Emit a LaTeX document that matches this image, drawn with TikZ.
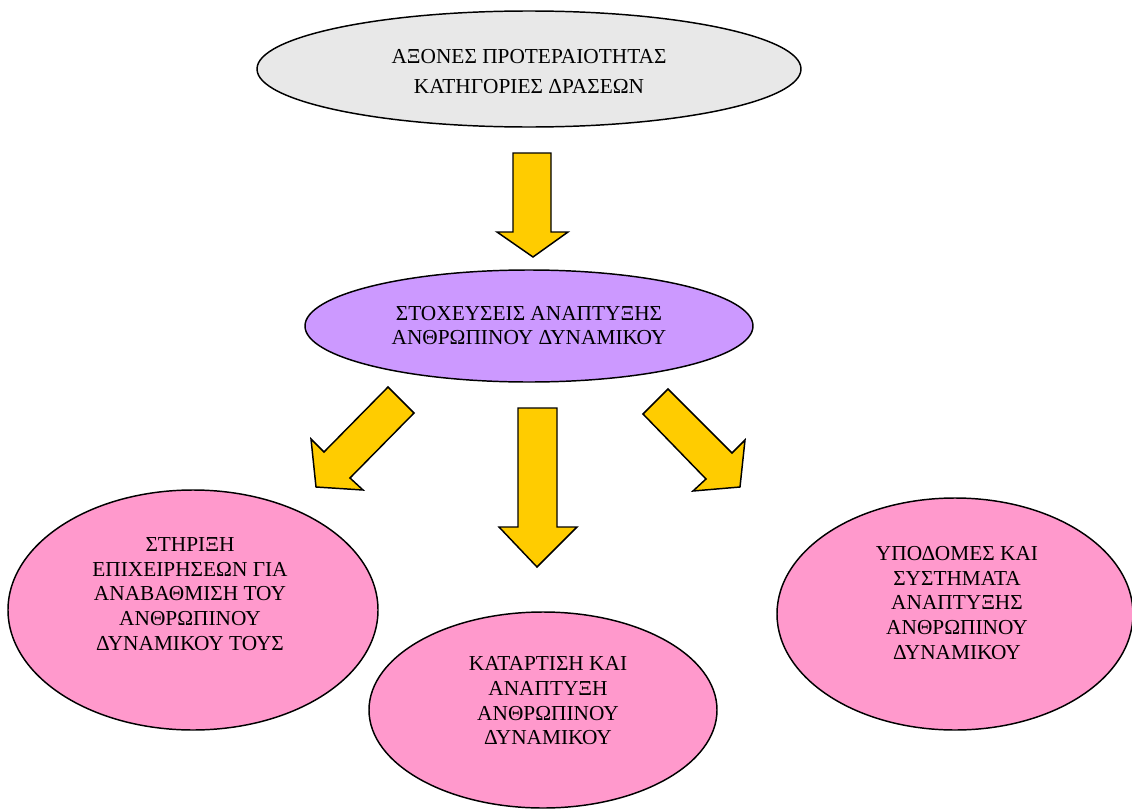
\documentclass[tikz,border=0pt]{standalone}
\usepackage{fontspec}
\setmainfont{Liberation Serif}
\usetikzlibrary{shapes.geometric}
\definecolor{ellgray}{HTML}{E8E8E8}
\definecolor{ellpurple}{HTML}{CC99FF}
\definecolor{ellpink}{HTML}{FF99CC}
\definecolor{arrowyellow}{HTML}{FFCC00}
\tikzset{
  ell/.style={ellipse, draw=black, line width=1.1pt, inner sep=0pt},
  txt/.style={align=center, font=\fontsize{16}{18.5}\selectfont, inner sep=0pt},
  blockarrow/.style={fill=arrowyellow, draw=black, line width=1.1pt, line join=miter}
}
\begin{document}
\begin{tikzpicture}[x=0.75pt,y=-0.75pt]
\useasboundingbox (0,0) rectangle (1132,810);
% ellipses
\node[ell, fill=ellgray, minimum width=544*0.75pt, minimum height=116*0.75pt] (top) at (529,69) {};
\node[ell, fill=ellpurple, minimum width=448*0.75pt, minimum height=112*0.75pt] (mid) at (529,326) {};
\node[ell, fill=ellpink, minimum width=370*0.75pt, minimum height=240*0.75pt] (left) at (193,610) {};
\node[ell, fill=ellpink, minimum width=348*0.75pt, minimum height=196*0.75pt] (centre) at (543,710) {};
\node[ell, fill=ellpink, minimum width=356*0.75pt, minimum height=232*0.75pt] (right) at (955,614) {};
% texts
\node[txt, font=\fontsize{16}{22.5}\selectfont] (toptxt) at (529,72) {ΑΞΟΝΕΣ ΠΡΟΤΕΡΑΙΟΤΗΤΑΣ\\ΚΑΤΗΓΟΡΙΕΣ ΔΡΑΣΕΩΝ};
\node[txt, font=\fontsize{16}{18}\selectfont] (midtxt) at (529,326) {ΣΤΟΧΕΥΣΕΙΣ ΑΝΑΠΤΥΞΗΣ\\ΑΝΘΡΩΠΙΝΟΥ ΔΥΝΑΜΙΚΟΥ};
\node[txt] (lefttxt) at (190,594) {ΣΤΗΡΙΞΗ\\ΕΠΙΧΕΙΡΗΣΕΩΝ ΓΙΑ\\ΑΝΑΒΑΘΜΙΣΗ ΤΟΥ\\ΑΝΘΡΩΠΙΝΟΥ\\ΔΥΝΑΜΙΚΟΥ ΤΟΥΣ};
\node[txt] (centretxt) at (548,701) {ΚΑΤΑΡΤΙΣΗ ΚΑΙ\\ΑΝΑΠΤΥΞΗ\\ΑΝΘΡΩΠΙΝΟΥ\\ΔΥΝΑΜΙΚΟΥ};
\node[txt] (righttxt) at (957,603) {ΥΠΟΔΟΜΕΣ ΚΑΙ\\ΣΥΣΤΗΜΑΤΑ\\ΑΝΑΠΤΥΞΗΣ\\ΑΝΘΡΩΠΙΝΟΥ\\ΔΥΝΑΜΙΚΟΥ};
% block arrows
\draw[blockarrow] (513,153) -- (551,153) -- (551,232) -- (568,232) -- (533,257) -- (497,232) -- (513,232) -- cycle;
\draw[blockarrow] (518,408) -- (557,408) -- (557,527) -- (577,527) -- (537,567) -- (499,527) -- (518,527) -- cycle;
\draw[blockarrow] (388,387) -- (414,413) -- (350,478) -- (363,490) -- (316,487) -- (311,439) -- (324,452) -- cycle;
\draw[blockarrow] (668,389) -- (643,414) -- (706,479) -- (693,491) -- (740,487) -- (745,440) -- (732,453) -- cycle;
\end{tikzpicture}
\end{document}
